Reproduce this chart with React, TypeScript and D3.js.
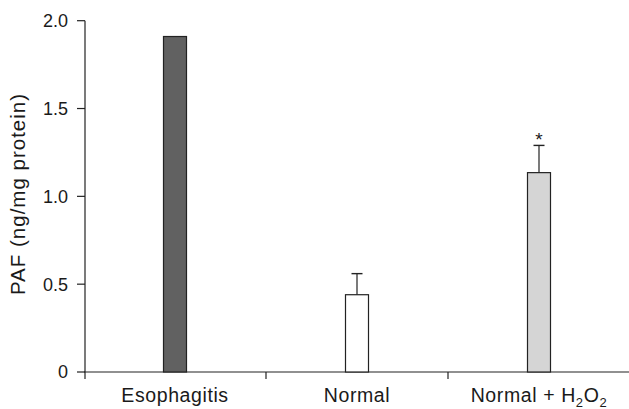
import React from "react";
import * as d3 from "d3";

const categories = ["Esophagitis", "Normal", "Normal + H2O2"];
const values = [1.91, 0.44, 1.135];
const errors = [0, 0.12, 0.155];
const fills = ["#616161", "#ffffff", "#d5d5d5"];
const significant = [false, false, true];
const yTicks = [0, 0.5, 1.0, 1.5, 2.0];
const yTickLabels = ["0", "0.5", "1.0", "1.5", "2.0"];

const W = 629;
const H = 409;
const FONT = "'Liberation Sans', Arial, sans-serif";

export default function App() {
  const x = d3.scaleBand<string>().domain(categories).range([84, 630]).padding(0);
  const y = d3.scaleLinear().domain([0, 2]).range([372, 20.7]);
  const barW = 23;
  const capW = 11;

  const renderLabel = (c: string) => {
    if (c === "Normal + H2O2") {
      return (
        <>
          Normal + H
          <tspan fontSize={13} dy={5}>2</tspan>
          <tspan dy={-5}>O</tspan>
          <tspan fontSize={13} dy={5}>2</tspan>
        </>
      );
    }
    return c;
  };

  return (
    <svg
      width={W}
      height={H}
      style={{ position: "absolute", left: 0, top: 0, background: "#fff" }}
      fontFamily={FONT}
    >
      {/* y axis */}
      <line x1={85} x2={85} y1={y(2)} y2={379} stroke="#222" strokeWidth={1.2} />
      {yTicks.map((t, i) => (
        <g key={t}>
          <line x1={77} x2={85} y1={y(t)} y2={y(t)} stroke="#222" strokeWidth={1.2} />
          <text x={68} y={y(t)} dy="0.36em" textAnchor="end" fontSize={18} fill="#1a1a1a">
            {yTickLabels[i]}
          </text>
        </g>
      ))}
      <text
        transform={`translate(25,194) rotate(-90)`}
        textAnchor="middle"
        fontSize={20.5}
        letterSpacing={1}
        fill="#1a1a1a"
      >
        PAF (ng/mg protein)
      </text>

      {/* x axis */}
      <line x1={84} x2={629} y1={y(0)} y2={y(0)} stroke="#222" strokeWidth={1.2} />
      {categories.map((c, i) =>
        i === 0 ? null : (
          <line
            key={"t" + c}
            x1={x(c)!}
            x2={x(c)!}
            y1={y(0)}
            y2={379}
            stroke="#222"
            strokeWidth={1.2}
          />
        )
      )}

      {/* bars */}
      {categories.map((c, i) => {
        const cx = x(c)! + x.bandwidth() / 2;
        const top = y(values[i]);
        const errTop = y(values[i] + errors[i]);
        return (
          <g key={c}>
            {errors[i] > 0 && (
              <>
                <line x1={cx} x2={cx} y1={errTop} y2={top} stroke="#222" strokeWidth={1.2} />
                <line
                  x1={cx - capW / 2}
                  x2={cx + capW / 2}
                  y1={errTop}
                  y2={errTop}
                  stroke="#222"
                  strokeWidth={1.4}
                />
              </>
            )}
            <rect
              x={cx - barW / 2}
              y={top}
              width={barW}
              height={y(0) - top}
              fill={fills[i]}
              stroke="#222"
              strokeWidth={1.2}
            />
            {significant[i] && (
              <text x={cx} y={errTop + 1} textAnchor="middle" fontSize={19} fill="#1a1a1a">
                *
              </text>
            )}
            <text
              x={cx}
              y={402}
              textAnchor="middle"
              fontSize={19.5}
              letterSpacing={0.6}
              fill="#1a1a1a"
            >
              {renderLabel(c)}
            </text>
          </g>
        );
      })}
    </svg>
  );
}
